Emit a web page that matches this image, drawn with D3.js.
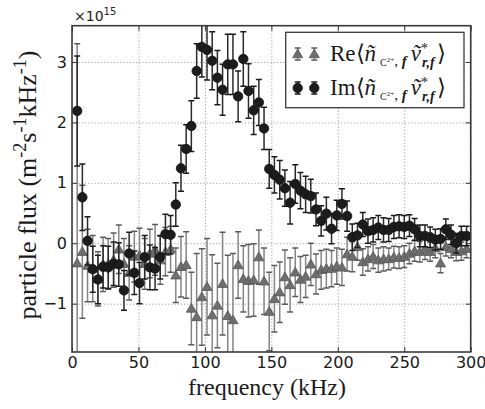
<!DOCTYPE html>
<html><head><meta charset="utf-8">
<script src="https://cdn.jsdelivr.net/npm/d3@7"></script>
<style>body{margin:0;background:#fff}svg{display:block}</style>
</head><body>
<svg id="c" width="485" height="409"></svg>
<script>
const freqKHz = [3.9,7.8,11.7,15.6,19.5,23.4,27.3,31.3,35.2,39.1,43.0,46.9,50.8,54.7,58.6,62.5,66.4,70.3,74.2,78.1,82.0,85.9,89.8,93.8,97.7,101.6,105.5,109.4,113.3,117.2,121.1,125.0,128.9,132.8,136.7,140.6,144.5,148.4,152.3,156.3,160.2,164.1,168.0,171.9,175.8,179.7,183.6,187.5,191.4,195.3,199.2,203.1,207.0,210.9,214.8,218.8,222.7,226.6,230.5,234.4,238.3,242.2,246.1,250.0,253.9,257.8,261.7,265.6,269.5,273.4,277.3,281.3,285.2,289.1,293.0,296.9];
const reFlux = [-0.33,-0.14,-0.37,-0.42,-0.59,-0.35,-0.34,-0.28,-0.10,-0.34,-0.49,-0.22,-0.20,-0.34,-0.17,-0.11,-0.28,-0.14,-0.10,-0.53,-0.39,-0.36,-1.08,-1.22,-0.89,-0.72,-1.19,-1.03,-0.67,-1.20,-1.27,-0.36,-0.59,-0.62,-0.61,-0.23,-0.63,-1.13,-0.92,-0.81,-0.56,-0.69,-0.48,-0.60,-0.55,-0.35,-0.51,-0.44,-0.42,-0.42,-0.38,-0.40,-0.18,-0.22,-0.06,-0.31,-0.26,-0.22,-0.28,-0.26,-0.26,-0.23,-0.24,-0.22,-0.17,-0.13,-0.14,-0.10,-0.14,-0.08,-0.33,-0.06,-0.09,-0.14,-0.13,-0.09];
const reErr = [3.63,1.10,0.60,0.55,0.45,0.45,0.42,0.45,0.40,0.42,0.45,0.42,0.45,0.42,0.40,0.42,0.40,0.40,0.38,0.45,0.50,0.55,0.60,1.05,0.80,0.80,1.00,0.70,0.85,1.00,1.10,0.55,0.55,0.60,0.60,0.45,0.55,0.65,0.55,0.50,0.45,0.45,0.40,0.38,0.35,0.35,0.33,0.32,0.32,0.30,0.30,0.30,0.28,0.25,0.22,0.22,0.20,0.20,0.20,0.20,0.18,0.18,0.18,0.18,0.17,0.17,0.17,0.17,0.16,0.16,0.16,0.15,0.15,0.15,0.15,0.15];
const imFlux = [2.19,0.76,0.04,-0.43,-0.60,-0.39,-0.40,-0.34,-0.35,-0.78,-0.17,-0.49,-0.66,-0.23,-0.40,-0.42,-0.23,0.15,0.14,0.64,1.24,1.56,1.94,2.85,3.25,3.20,3.02,2.74,2.54,2.96,2.96,2.43,3.05,2.52,2.20,2.33,1.90,1.23,1.13,1.05,0.91,0.67,0.98,0.87,0.81,0.78,0.56,0.37,0.49,0.24,0.46,0.65,0.45,0.10,0.13,0.31,0.20,0.22,0.26,0.22,0.22,0.27,0.28,0.27,0.29,0.23,0.12,0.12,0.10,0.06,0.07,0.23,0.14,0.00,0.12,0.12];
const imErr = [0.91,0.55,0.40,0.38,0.40,0.35,0.35,0.36,0.36,0.33,0.35,0.36,0.34,0.36,0.37,0.35,0.36,0.33,0.32,0.36,0.38,0.40,0.42,0.45,0.50,0.50,0.48,0.45,0.42,0.50,0.50,0.42,0.45,0.45,0.40,0.38,0.35,0.32,0.30,0.32,0.30,0.35,0.32,0.30,0.30,0.28,0.27,0.25,0.27,0.25,0.25,0.25,0.25,0.22,0.20,0.20,0.20,0.20,0.20,0.20,0.19,0.19,0.19,0.19,0.18,0.18,0.18,0.18,0.17,0.17,0.17,0.17,0.16,0.16,0.16,0.16];
const xTicks = [0,50,100,150,200,250,300];
const yTicks = [-1,0,1,2,3];
const seriesNames = ["Re", "Im"];

const L = 72, R = 470.7, T = 25.7, B = 352;
const svg = d3.select('#c');
const x = d3.scaleLinear().domain([0, 300]).range([L, R]);
const y = d3.scaleLinear().domain([-1.8, 3.6]).range([B, T]);
const sans = "'DejaVu Sans', sans-serif";
const serif = "'Liberation Serif', serif";

svg.append('rect').attr('x', L).attr('y', T).attr('width', R - L).attr('height', B - T).attr('fill', '#fff');
svg.append('clipPath').attr('id', 'clip').append('rect').attr('x', L).attr('y', T).attr('width', R - L).attr('height', B - T);

// grid
const grid = svg.append('g');
grid.append('g').attr('transform', `translate(0,${B})`)
  .call(d3.axisBottom(x).tickValues(xTicks).tickSize(-(B - T)).tickFormat(''))
  .call(g => { g.select('.domain').remove(); g.selectAll('line').attr('stroke', '#a0a0a0').attr('stroke-dasharray', '1.2,2').attr('stroke-width', 1); });
grid.append('g').attr('transform', `translate(${L},0)`)
  .call(d3.axisLeft(y).tickValues(yTicks).tickSize(-(R - L)).tickFormat(''))
  .call(g => { g.select('.domain').remove(); g.selectAll('line').attr('stroke', '#a0a0a0').attr('stroke-dasharray', '1.2,2').attr('stroke-width', 1); });

const plot = svg.append('g').attr('clip-path', 'url(#clip)');
const cap = 3;
function drawSeries(vals, errs, style) {
  const d = freqKHz.map((f, i) => ({ f, v: vals[i], e: errs[i] }));
  const g = plot.append('g');
  const eb = g.append('g').attr('stroke', style.bar).attr('stroke-width', 1.5);
  eb.selectAll('line.v').data(d).join('line').attr('class', 'v')
    .attr('x1', p => x(p.f)).attr('x2', p => x(p.f))
    .attr('y1', p => y(p.v - p.e)).attr('y2', p => y(p.v + p.e));
  eb.selectAll('line.t').data(d).join('line').attr('class', 't')
    .attr('x1', p => x(p.f) - cap).attr('x2', p => x(p.f) + cap)
    .attr('y1', p => y(p.v + p.e)).attr('y2', p => y(p.v + p.e)).attr('stroke', style.cap);
  eb.selectAll('line.b').data(d).join('line').attr('class', 'b')
    .attr('x1', p => x(p.f) - cap).attr('x2', p => x(p.f) + cap)
    .attr('y1', p => y(p.v - p.e)).attr('y2', p => y(p.v - p.e)).attr('stroke', style.cap);
  g.selectAll('path.m').data(d).join('path').attr('class', 'm')
    .attr('transform', p => `translate(${x(p.f)},${y(p.v) + style.off})`)
    .attr('d', style.sym).attr('fill', style.fill).attr('stroke', style.edge).attr('stroke-width', 0.8);
}
const triSym = d3.symbol().type(d3.symbolTriangle).size(44)();
const cirSym = d3.symbol().type(d3.symbolCircle).size(70)();
const reStyle = { bar: '#858585', cap: '#5a5a5a', fill: '#6e6e6e', edge: '#555', sym: triSym, off: 0.8 };
const imStyle = { bar: '#2a2a2a', cap: '#1a1a1a', fill: '#1c1c1c', edge: '#111', sym: cirSym, off: 0 };
drawSeries(reFlux, reErr, reStyle);
drawSeries(imFlux, imErr, imStyle);

// frame + axes
const ax = svg.append('g');
ax.append('g').attr('transform', `translate(0,${B})`)
  .call(d3.axisBottom(x).tickValues(xTicks).tickSizeInner(-5).tickSizeOuter(0).tickPadding(5).tickFormat(d3.format('d')))
  .call(g => { g.select('.domain').remove(); g.selectAll('line').attr('stroke', '#333');
    g.selectAll('text').attr('font-family', sans).attr('font-size', 16).attr('fill', '#1a1a1a'); });
ax.append('g').attr('transform', `translate(${L},0)`)
  .call(d3.axisLeft(y).tickValues(yTicks).tickSizeInner(-5).tickSizeOuter(0).tickPadding(5).tickFormat(d3.format('d')))
  .call(g => { g.select('.domain').remove(); g.selectAll('line').attr('stroke', '#333');
    g.selectAll('text').attr('font-family', sans).attr('font-size', 16).attr('fill', '#1a1a1a'); });
ax.append('g').attr('transform', `translate(0,${T})`)
  .call(d3.axisTop(x).tickValues(xTicks).tickSizeInner(-5).tickSizeOuter(0).tickFormat(''))
  .call(g => { g.select('.domain').remove(); g.selectAll('line').attr('stroke', '#333'); });
ax.append('g').attr('transform', `translate(${R},0)`)
  .call(d3.axisRight(y).tickValues(yTicks).tickSizeInner(-5).tickSizeOuter(0).tickFormat(''))
  .call(g => { g.select('.domain').remove(); g.selectAll('line').attr('stroke', '#333'); });
svg.append('rect').attr('x', L).attr('y', T).attr('width', R - L).attr('height', B - T)
  .attr('fill', 'none').attr('stroke', '#3a3a3a').attr('stroke-width', 1.6);

// offset text
const off = svg.append('text').attr('x', 74).attr('y', 21).attr('font-family', sans).attr('font-size', 14).attr('fill', '#222');
off.append('tspan').text('×10');
off.append('tspan').attr('font-size', 10).attr('dy', -6).text('15');

// axis labels
svg.append('text').attr('x', 267).attr('y', 395).attr('text-anchor', 'middle')
  .attr('font-family', serif).attr('font-size', 24).attr('fill', '#1a1a1a').text('frequency (kHz)');
const yl = svg.append('text').attr('transform', 'translate(36,185) rotate(-90)').attr('text-anchor', 'middle')
  .attr('font-family', serif).attr('font-size', 26).attr('fill', '#1a1a1a');
yl.append('tspan').text('particle flux (m');
yl.append('tspan').attr('font-size', 18).attr('dy', -10).text('-2');
yl.append('tspan').attr('dy', 10).text('s');
yl.append('tspan').attr('font-size', 18).attr('dy', -10).text('-1');
yl.append('tspan').attr('dy', 10).text('kHz');
yl.append('tspan').attr('font-size', 18).attr('dy', -10).text('-1');
yl.append('tspan').attr('dy', 10).text(')');

// legend
const lg = svg.append('g');
lg.append('rect').attr('x', 285.7).attr('y', 32.3).attr('width', 178.3).attr('height', 75.4)
  .attr('fill', '#fff').attr('stroke', '#3a3a3a').attr('stroke-width', 1.3);
function legendRow(name, cy, style) {
  [297.7, 314.3].forEach(mx => {
    lg.append('line').attr('x1', mx).attr('x2', mx).attr('y1', cy - 6).attr('y2', cy + 6).attr('stroke', style.bar).attr('stroke-width', 1.5);
    [cy - 6, cy + 6].forEach(cyy => lg.append('line').attr('x1', mx - cap).attr('x2', mx + cap).attr('y1', cyy).attr('y2', cyy).attr('stroke', style.cap).attr('stroke-width', 1.5));
    lg.append('path').attr('transform', `translate(${mx},${cy + style.off})`).attr('d', style.sym)
      .attr('fill', style.fill).attr('stroke', style.edge).attr('stroke-width', 0.8);
  });
  const t = lg.append('text').attr('x', 330).attr('y', cy + 7).attr('font-family', serif).attr('font-size', 23).attr('fill', '#1a1a1a');
  t.append('tspan').text(name + '⟨');
  t.append('tspan').attr('font-style', 'italic').text('ñ');
  t.append('tspan').attr('font-size', 10).attr('dy', 5).attr('dx', 4).text('C');
  t.append('tspan').attr('font-size', 7).attr('dy', -4).text('2+');
  t.append('tspan').attr('font-size', 15).attr('dy', 4).text(', ');
  t.append('tspan').attr('font-size', 15).attr('font-style', 'italic').attr('font-weight', 'bold').text('f');
  t.append('tspan').attr('font-style', 'italic').attr('dy', -5).attr('dx', 4).text('ṽ');
  t.append('tspan').attr('font-size', 14).attr('dy', -8).text('*');
  t.append('tspan').attr('font-size', 14).attr('font-style', 'italic').attr('font-weight', 'bold').attr('dy', 14).attr('dx', -6).text('r,f');
  t.append('tspan').attr('dy', -6).attr('dx', 2).text('⟩');
}
legendRow(seriesNames[0], 54, reStyle);
legendRow(seriesNames[1], 88, imStyle);
</script>
</body></html>
